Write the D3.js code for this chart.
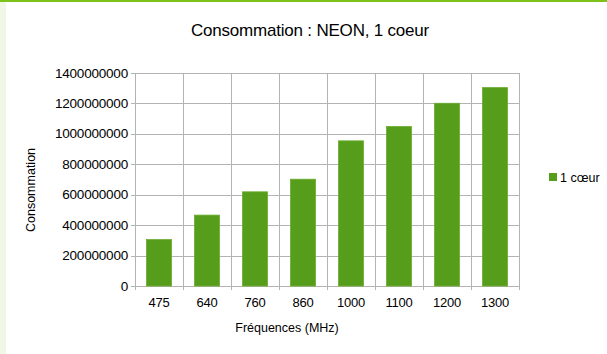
<!DOCTYPE html>
<html><head><meta charset="utf-8">
<script src="https://cdn.jsdelivr.net/npm/d3@7"></script>
<style>body{margin:0;background:#fff;}svg{display:block;font-family:"Liberation Sans",Arial,sans-serif;}</style>
</head><body><svg id="c" width="607" height="354"></svg>
<script>
const categories = ["475","640","760","860","1000","1100","1200","1300"];
const values = [305000000,466000000,619000000,702000000,954000000,1048000000,1201000000,1304000000];
const yTicks = [0,200000000,400000000,600000000,800000000,1000000000,1200000000,1400000000];
const seriesName = "1 cœur";
const title = "Consommation : NEON, 1 coeur";
const xTitle = "Fréquences (MHz)";
const yTitle = "Consommation";

const svg = d3.select("#c");
svg.append("rect").attr("x",0).attr("y",0).attr("width",6).attr("height",354).attr("fill","#f1f7e6");
svg.append("rect").attr("x",0).attr("y",0).attr("width",607).attr("height",2).attr("fill","#7cc21a");

const L=135,R=519,T=73,B=286;
const x = d3.scaleBand().domain(categories).range([L,R]).paddingInner(0).paddingOuter(0);
const y = d3.scaleLinear().domain([0,1400000000]).range([B,T]);

const g = svg.append("g");
g.selectAll(".hg").data(yTicks).join("line")
 .attr("x1",L-4).attr("x2",R).attr("y1",d=>Math.round(y(d))+0.5).attr("y2",d=>Math.round(y(d))+0.5)
 .attr("stroke","#b3b3b3").attr("stroke-width",1);
const vpos = categories.map(c=>x(c)).concat([R]);
g.selectAll(".vg").data(vpos).join("line")
 .attr("x1",d=>Math.round(d)+0.5).attr("x2",d=>Math.round(d)+0.5).attr("y1",T).attr("y2",B+4)
 .attr("stroke","#b3b3b3").attr("stroke-width",1);

const bw = x.bandwidth()*0.52;
g.selectAll(".bar").data(values).join("rect")
 .attr("x",(d,i)=>x(categories[i])+(x.bandwidth()-bw)/2)
 .attr("y",d=>y(d)).attr("width",bw).attr("height",d=>B-y(d))
 .attr("fill","#579d1c").attr("stroke","#6aac2e").attr("stroke-width",0.8);

g.selectAll(".yl").data(yTicks).join("text")
 .attr("x",128).attr("y",d=>y(d)+4.5).attr("text-anchor","end")
 .attr("font-size","13.5px").attr("letter-spacing","-0.2px").attr("fill","#000").text(d=>d3.format("d")(d));
g.selectAll(".xl").data(categories).join("text")
 .attr("x",d=>x(d)+x.bandwidth()/2).attr("y",307).attr("text-anchor","middle")
 .attr("font-size","13px").attr("letter-spacing","-0.2px").attr("fill","#000").text(d=>d);

svg.append("text").attr("x",310).attr("y",36).attr("text-anchor","middle")
 .attr("font-size","17px").attr("letter-spacing","-0.2px").attr("fill","#000").text(title);
svg.append("text").attr("x",287).attr("y",332).attr("text-anchor","middle")
 .attr("font-size","12.5px").attr("fill","#000").text(xTitle);
svg.append("text").attr("transform","translate(35,190) rotate(-90)").attr("text-anchor","middle")
 .attr("font-size","12.5px").attr("fill","#000").text(yTitle);

svg.append("rect").attr("x",549).attr("y",173).attr("width",8).attr("height",8).attr("fill","#579d1c");
svg.append("text").attr("x",560).attr("y",181.5).attr("font-size","12.5px").attr("fill","#000").text(seriesName);
</script></body></html>
